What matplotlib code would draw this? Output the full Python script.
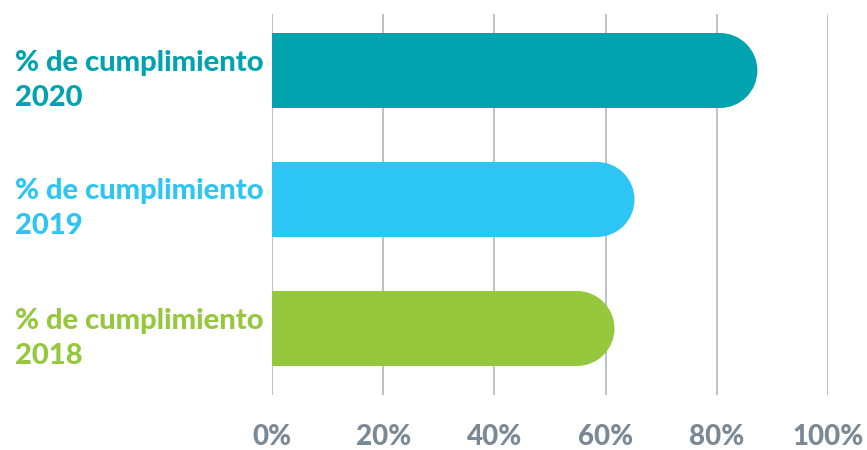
import matplotlib.pyplot as plt
import matplotlib.transforms as mtransforms
from matplotlib.patches import Rectangle, Ellipse

plt.rcParams['font.family'] = ['Lato', 'DejaVu Sans']

years = ["2020", "2019", "2018"]
values = [87.3, 65.2, 61.6]
colors = ["#00A3AE", "#2DC5F4", "#95C83D"]
ticks = [0, 20, 40, 60, 80, 100]
tick_labels = ["0%", "20%", "40%", "60%", "80%", "100%"]

W, H = 867, 450
fig = plt.figure(figsize=(W / 100, H / 100), dpi=100)
ax_left, ax_right, ax_top, ax_bot = 272, 828, 14, 395
ax = fig.add_axes([ax_left / W, 1 - ax_bot / H, (ax_right - ax_left) / W, (ax_bot - ax_top) / H])

step_px = 129.0
ymax = 2 + (70.5 - ax_top) / step_px
ymin = ymax - (ax_bot - ax_top) / step_px
ax.set_xlim(0, 100)
ax.set_ylim(ymin, ymax)

bar_h = 75 / step_px
px_x = (ax_right - ax_left) / 100.0
rx = (bar_h / 2) * step_px / px_x  # round end drawn as a circle in pixels

for x in ticks:
    ax.axvline(x, color="#a7b0b9", lw=1.1, zorder=1)

for i, (yr, v, c) in enumerate(zip(years, values, colors)):
    y = 2 - i
    ax.add_patch(Rectangle((0, y - bar_h / 2), v - rx, bar_h, color=c, lw=0, zorder=2))
    ax.add_patch(Ellipse((v - rx, y), 2 * rx, bar_h, color=c, lw=0, zorder=2))

trans = mtransforms.blended_transform_factory(fig.transFigure, ax.transData)
for i, (yr, c) in enumerate(zip(years, colors)):
    y = 2 - i
    ax.text(15 / W, y, "% de cumplimiento", transform=trans, color=c, fontsize=21,
            fontweight=900, ha="left", va="baseline")
    ax.text(15 / W, y - 35 / step_px, yr, transform=trans, color=c, fontsize=21,
            fontweight=900, ha="left", va="baseline")

ax.set_xticks(ticks)
ax.set_xticklabels(tick_labels, fontsize=20, fontweight=900, color="#7a8995")
ax.tick_params(axis="x", length=0, pad=21)
ax.set_yticks([])
for s in ax.spines.values():
    s.set_visible(False)

fig.savefig("out.png", dpi=100)
